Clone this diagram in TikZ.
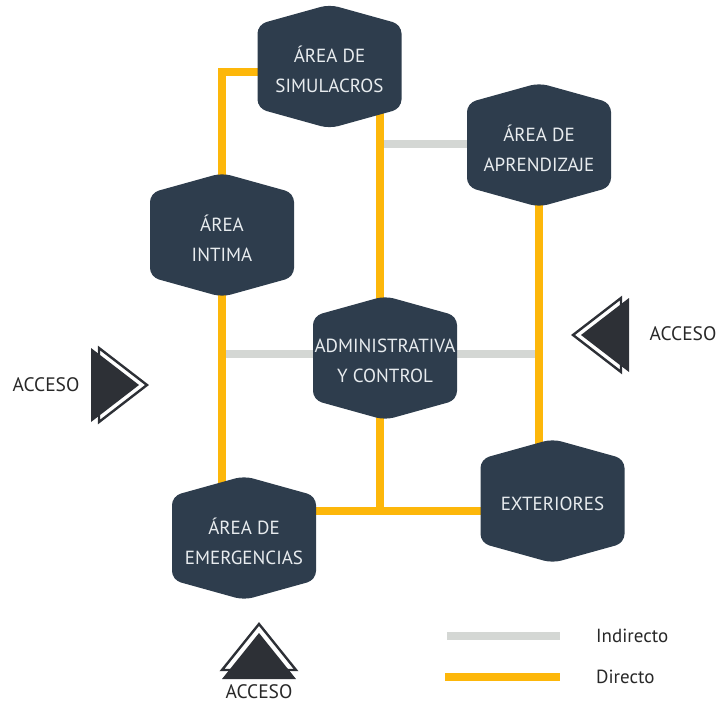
\documentclass[tikz,border=0pt]{standalone}
\usepackage{fontspec}
\setmainfont{PT Sans}
\usetikzlibrary{backgrounds}
\definecolor{areafill}{RGB}{46,61,77}
\definecolor{areatext}{RGB}{232,236,239}
\definecolor{directc}{RGB}{253,183,10}
\definecolor{indirectc}{RGB}{212,215,212}
\definecolor{arrowc}{RGB}{45,48,54}
\definecolor{labelc}{RGB}{40,40,40}
\tikzset{
  area/.style={minimum width=146pt, minimum height=124pt, inner sep=0pt,
    align=center, text=areatext, font=\fontsize{19}{30}\selectfont, yshift=-3pt},
  areashape/.style={fill=areafill, rounded corners=9pt},
  direct/.style={draw=directc, line width=7.5pt},
  indirect/.style={draw=indirectc, line width=8pt},
  accesolbl/.style={text=labelc, font=\fontsize{19.5}{22}\selectfont, inner sep=0pt},
  legendlbl/.style={text=labelc, font=\fontsize{19}{22}\selectfont, inner sep=0pt, anchor=west},
  outlinetri/.style={draw=arrowc, line width=2.4pt, fill=white, line join=miter},
  filltri/.style={fill=arrowc},
}
\newcommand{\areanode}[3]{%
  \path[areashape, shift={(#2)}]
    (-72,-42) -- (0,-62) -- (72,-42) -- (72,42) -- (0,62) -- (-72,42) -- cycle;
  \node[area] (#1) at (#2) {#3};}
\begin{document}
\begin{tikzpicture}[x=1pt, y=-1pt]
\useasboundingbox (0,0) rectangle (720,704);

% junction coordinates
\coordinate (jA) at (380,511);
\coordinate (jS) at (222,72);
\coordinate (jM) at (222,354);
\coordinate (jG) at (380,144);

% nodes
\areanode{simul}{329.5,66.5}{ÁREA DE\\SIMULACROS}
\areanode{aprend}{539,145}{ÁREA DE\\APRENDIZAJE}
\areanode{intima}{222,235}{ÁREA\\INTIMA}
\areanode{admin}{385,358}{ADMINISTRATIVA\\Y CONTROL}
\areanode{exter}{552.5,501}{EXTERIORES}
\areanode{emerg}{244,538}{ÁREA DE\\EMERGENCIAS}

% connectors behind nodes
\begin{scope}[on background layer]
  \draw[indirect] (jG) -- (jG -| aprend.center);
  \draw[indirect] (jM) -- (jM -| aprend.center);
  \draw[direct] (simul.center |- jS) -- (jS) -- (intima.center);
  \draw[direct] (intima.center) -- (intima.center |- emerg.center);
  \draw[direct] (jA |- simul.center) -- (jA);
  \draw[direct] (emerg.center |- jA) -- (exter.center |- jA);
  \draw[direct] (aprend.center) -- (aprend.center |- exter.center);
\end{scope}

% access symbols
\draw[outlinetri] (99,348) -- (147,385) -- (99,422) -- cycle;
\fill[filltri] (91,348) -- (139,385) -- (91,422) -- cycle;
\node[accesolbl] (accL) at (46,385) {ACCESO};

\draw[outlinetri] (621,298) -- (573,335) -- (621,372) -- cycle;
\fill[filltri] (629,298) -- (581,335) -- (629,372) -- cycle;
\node[accesolbl] (accR) at (683,334) {ACCESO};

\draw[outlinetri] (222,670) -- (259,624) -- (296,670) -- cycle;
\fill[filltri] (222,679) -- (259,633) -- (296,679) -- cycle;
\node[accesolbl] (accB) at (259,692) {ACCESO};

% legend
\coordinate (lgA) at (447,636);
\coordinate (lgB) at (560,636);
\coordinate (lgC) at (445,677);
\coordinate (lgD) at (560,677);
\draw[indirect] (lgA) -- (lgB);
\draw[direct] (lgC) -- (lgD);
\node[legendlbl] (lgI) at (596,636) {Indirecto};
\node[legendlbl] (lgDir) at (596,677) {Directo};
\end{tikzpicture}
\end{document}
